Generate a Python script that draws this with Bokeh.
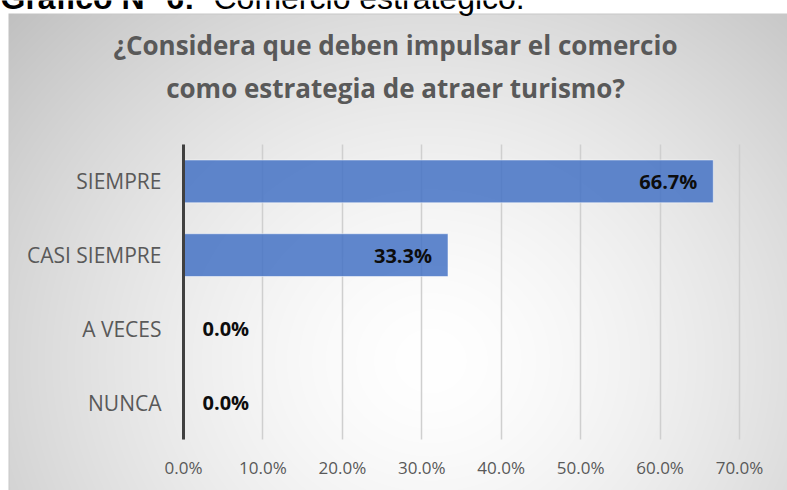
import numpy as np
from bokeh.plotting import figure
from bokeh.models import (Range1d, LinearAxis, FixedTicker, PrintfTickFormatter,
                          Grid, Label, ColumnDataSource)
from bokeh.core.properties import value
from bokeh.embed import file_html
from bokeh.resources import INLINE

# ---------------- data ----------------
categories = ["SIEMPRE", "CASI SIEMPRE", "A VECES", "NUNCA"]
percentages = [66.7, 33.3, 0.0, 0.0]
x_ticks = [0, 10, 20, 30, 40, 50, 60, 70]
title_lines = ["¿Considera que deben impulsar el comercio",
               "como estrategia de atraer turismo?"]
caption_bold = "Gráfico N° 6:"
caption_rest = "Comercio estratégico."

# ---------------- layout ----------------
W, H = 787, 490
X0_PX = 183.0                 # canvas x of 0 %
PX_PER_PCT = 556.0 / 70.0
ROW_PX = 73.75
CAT_TOP_PX = 144.0
BOX_TOP_PX = 13
BOX_LEFT_PX = 8

n = len(categories)
x_start = -X0_PX / PX_PER_PCT
x_end = (W - X0_PX) / PX_PER_PCT
y_end = (n - 1) + (CAT_TOP_PX + ROW_PX / 2) / ROW_PX
y_start = y_end - H / ROW_PX


def sx(px):
    return x_start + px / PX_PER_PCT


def sy(py):
    return y_end - py / ROW_PX


ypos = [float(n - 1 - i) for i in range(n)]

p = figure(width=W, height=H, x_range=Range1d(x_start, x_end),
           y_range=Range1d(y_start, y_end), min_border=0,
           x_axis_location=None, y_axis_location=None,
           toolbar_location=None, output_backend="svg")
p.outline_line_color = None
p.background_fill_color = "white"
p.border_fill_color = "white"
p.xgrid.visible = False
p.ygrid.visible = False

# ---------------- radial gradient background ----------------
cy, cx = np.mgrid[0:H, 0:W].astype(float)
d = np.sqrt(((cx - 430) / 440.0) ** 2 + ((cy - 360) / 400.0) ** 2)
t = np.clip(d / 1.3, 0, 1) ** 1.5
g = 255 - 63 * t
g[cy == BOX_TOP_PX] = np.minimum(g[cy == BOX_TOP_PX], 200)
g[:, BOX_LEFT_PX] = np.minimum(g[:, BOX_LEFT_PX], 200)
g[cy < BOX_TOP_PX] = 255
g[:, :BOX_LEFT_PX] = 255
g = np.flipud(g).astype(np.uint8)
img = np.empty((H, W), dtype=np.uint32)
view = img.view(dtype=np.uint8).reshape((H, W, 4))
view[..., 0] = g
view[..., 1] = g
view[..., 2] = g
view[..., 3] = 255
p.image_rgba(image=[img], x=x_start, y=y_start, dw=x_end - x_start,
             dh=y_end - y_start, level="image")

# ---------------- grid ----------------
xticker = FixedTicker(ticks=x_ticks)
grid = Grid(dimension=0, ticker=xticker, grid_line_color="#cfcfcf",
            grid_line_width=1.5)
if "cross_bounds" in Grid.properties():
    grid.cross_bounds = (-0.5, n - 0.5)
    p.add_layout(grid)
else:
    p.segment(x0=x_ticks[1:], x1=x_ticks[1:], y0=-0.5, y1=n - 0.5,
              line_color="#cfcfcf", line_width=1.5, level="underlay")

# ---------------- bars ----------------
src = ColumnDataSource(dict(y=ypos, v=percentages, cat=categories))
p.hbar(y="y", left=0, right="v", height=0.58, source=src,
       fill_color="#4472C4", fill_alpha=0.85,
       line_color="#ffffff", line_alpha=0.5, line_width=1)

# data labels
lab_text = [f"{v:.1f}%" for v in percentages]
lab_align = ["right" if v > 0 else "left" for v in percentages]
lab_off = [-16 if v > 0 else 19 for v in percentages]
lsrc = ColumnDataSource(dict(x=percentages, y=ypos, t=lab_text,
                             a=lab_align, o=lab_off))
p.text(x="x", y="y", text="t", text_align="a", x_offset="o", source=lsrc,
       text_baseline="middle", text_font=value("Open Sans"),
       text_font_style="bold", text_font_size="20px", text_color="#0d0d0d")

# ---------------- axes ----------------
yaxis = LinearAxis(fixed_location=0, ticker=FixedTicker(ticks=ypos),
                   bounds=(-0.5, n - 0.5))
yaxis.major_label_overrides = {int(y): c for y, c in zip(ypos, categories)}
yaxis.axis_line_color = "#404040"
yaxis.axis_line_width = 3
yaxis.major_tick_line_color = None
yaxis.minor_tick_line_color = None
yaxis.major_label_standoff = 16
yaxis.major_label_text_font = "Open Sans"
yaxis.major_label_text_font_size = "21px"
yaxis.major_label_text_color = "#595959"
p.add_layout(yaxis, "left")

xaxis = LinearAxis(fixed_location=-0.5, ticker=xticker,
                   formatter=PrintfTickFormatter(format="%.1f%%"))
xaxis.axis_line_color = None
xaxis.major_tick_line_color = None
xaxis.minor_tick_line_color = None
xaxis.major_label_standoff = 10
xaxis.major_label_text_font = "Open Sans"
xaxis.major_label_text_font_size = "17px"
xaxis.major_label_text_color = "#595959"
p.add_layout(xaxis, "below")

# ---------------- title ----------------
for line, base_px in zip(title_lines, [44, 87]):
    p.add_layout(Label(x=sx(395), y=sy(base_px), text=line,
                       text_align="center", text_baseline="alphabetic",
                       text_font="Open Sans", text_font_style="bold",
                       text_font_size="26px", text_color="#595959"))

# ---------------- caption above the chart (cut by the page edge) ----------------
p.add_layout(Label(x=sx(0), y=sy(-3), text=caption_bold, text_align="left",
                   text_baseline="alphabetic", text_font="Liberation Sans",
                   text_font_style="bold", text_font_size="32px",
                   text_color="#000000"))
p.add_layout(Label(x=sx(213), y=sy(-3), text=caption_rest, text_align="left",
                   text_baseline="alphabetic", text_font="Liberation Sans",
                   text_font_size="32px", text_color="#000000"))

open("out.html", "w").write(file_html(p, INLINE))
